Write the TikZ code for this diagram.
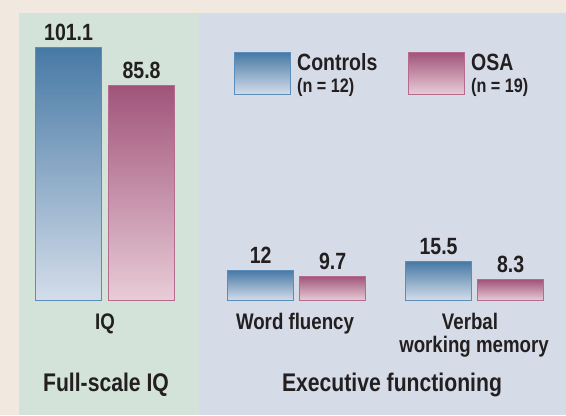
\documentclass[tikz,border=0pt]{standalone}
\usepackage{fontspec}
\setmainfont{Liberation Sans}[FakeStretch=0.83]
\usetikzlibrary{positioning}
\definecolor{paper}{HTML}{F1E9DF}
\definecolor{iqpanel}{HTML}{D3E3D9}
\definecolor{efpanel}{HTML}{D5DCE8}
\definecolor{ctrltop}{HTML}{4779A5}
\definecolor{ctrlbot}{HTML}{D4DDEA}
\definecolor{ctrledge}{HTML}{5A8DB9}
\definecolor{osatop}{HTML}{A1547A}
\definecolor{osabot}{HTML}{E8CCD7}
\definecolor{osaedge}{HTML}{B46B8D}
\definecolor{ink}{HTML}{231F20}
\tikzset{
  ctrlbar/.style={draw=ctrledge,line width=1.2bp,top color=ctrltop,bottom color=ctrlbot,
    inner sep=0pt,anchor=south west,minimum width=66bp},
  osabar/.style={draw=osaedge,line width=1.2bp,top color=osatop,bottom color=osabot,
    inner sep=0pt,anchor=south west,minimum width=66bp},
  val/.style={font=\bfseries\fontsize{23.5bp}{25bp}\selectfont,text=ink,inner sep=0pt,above=6bp},
  cat/.style={font=\bfseries\fontsize{22.5bp}{24bp}\selectfont,text=ink,inner sep=0pt,anchor=base},
  grp/.style={font=\bfseries\fontsize{25.5bp}{27bp}\selectfont,text=ink,inner sep=0pt,anchor=base},
  leg/.style={font=\bfseries\fontsize{23.5bp}{25bp}\selectfont,text=ink,inner sep=0pt,anchor=base west},
  legn/.style={font=\bfseries\fontsize{19.5bp}{21bp}\selectfont,text=ink,inner sep=0pt,anchor=base west}
}
\begin{document}
\begin{tikzpicture}[x=1bp,y=-1bp]
\fill[paper] (0,0) rectangle (566,415);
\useasboundingbox (0,0) rectangle (566,415);
\fill[iqpanel] (19,13) rectangle (199,415);
\fill[efpanel] (199,13) rectangle (566,415);
% full-scale IQ
\node[ctrlbar,minimum height=253bp] (iqc) at (35,301) {};
\node[osabar,minimum height=215bp] (iqo) at (108,301) {};
\node[val] (iqcv) [above=6bp of iqc] {101.1};
\node[val] (iqov) [above=6bp of iqo] {85.8};
\node[cat] (iq) at (105,329) {IQ};
\node[grp] (fsiq) at (106,391) {Full-scale IQ};
% executive functioning
\node[ctrlbar,minimum height=30bp] (wfc) at (227,301) {};
\node[osabar,minimum height=24.3bp] (wfo) at (299,301) {};
\node[val] (wfcv) [above=6bp of wfc] {12};
\node[val] (wfov) [above=6bp of wfo] {9.7};
\node[ctrlbar,minimum height=38.8bp] (vmc) at (405,301) {};
\node[osabar,minimum height=20.8bp] (vmo) at (477,301) {};
\node[val] (vmcv) [above=6bp of vmc] {15.5};
\node[val] (vmov) [above=6bp of vmo] {8.3};
\node[cat] (wf) at (295,329) {Word fluency};
\node[cat] (vm) at (470,329) {Verbal};
\node[cat] (vm2) at (474,352) {working memory};
\node[grp] (ef) at (392,391) {Executive functioning};
% legend
\node[ctrlbar,minimum width=56bp,minimum height=42bp] (ctrlkey) at (234,95) {};
\node[osabar,minimum width=56bp,minimum height=42bp] (osakey) at (408,95) {};
\node[leg] (ctrlname) at (297,70) {Controls};
\node[legn] (ctrln) at (297,92) {(n = 12)};
\node[leg] (osaname) at (471,70) {OSA};
\node[legn] (osan) at (471,92) {(n = 19)};
\end{tikzpicture}
\end{document}
